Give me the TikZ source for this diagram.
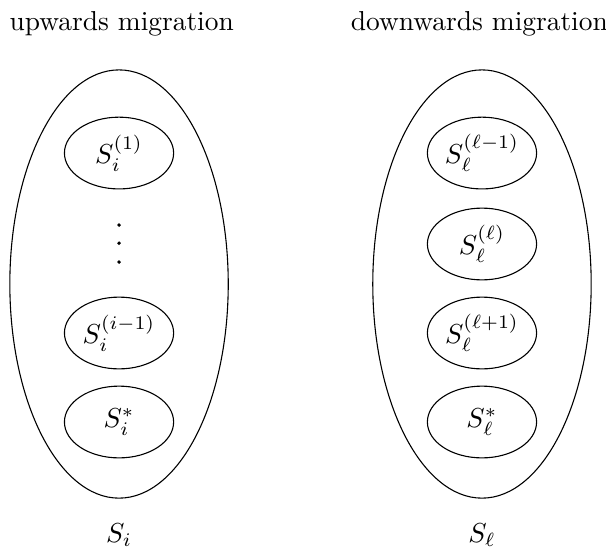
\documentclass[tikz,border=0pt]{standalone}
\usepackage{amsmath, amssymb}
\usepackage{tikz}
\usetikzlibrary{
    shapes.geometric,   % Required for ellipse nodes
    positioning         % Required for "below=of"
}

\begin{document}
\begin{tikzpicture}[
        thin,
        % Styles
        population/.style={ellipse, draw=black, inner sep=0pt, minimum width=2.8cm, minimum height=5.49cm},
        subpop/.style={ellipse, draw=black, inner sep=0pt, minimum width=1.4cm, minimum height=0.92cm},
        heading/.style={font=\normalsize},
        dot/.style={circle, fill=black, inner sep=0pt, minimum size=0.05cm}
    ]

    % --- Canvas (same proportions as the reference) ---
    \useasboundingbox (0,0) rectangle (7.769,-7.064);

    % --- 1. Headings ---
    \node[heading] (HeadUp) at (1.56,-0.30) {upwards migration};
    \node[heading] (HeadDown) at (6.145,-0.30) {downwards migration};

    % --- 2. Outer populations ---
    \node[population] (PopI) at (1.526,-3.641) {};
    \node[population] (PopL) at (6.179,-3.641) {};

    \node (LabelI) at (1.526,-6.86) {$S_i$};
    \node (LabelL) at (6.179,-6.86) {$S_\ell$};

    % --- 3. Subpopulations of S_i ---
    \node[subpop] (SubIa) at (1.526,-1.962) {$S_i^{(1)}$};
    \node[subpop] (SubIb) at (1.526,-4.269) {$S_i^{(i-1)}$};
    \node[subpop] (SubIc) at (1.526,-5.410) {$S_i^{*}$};

    % the dots in between
    \node[dot] (DotA) at (1.526,-2.885) {};
    \node[dot] (DotB) at (1.526,-3.118) {};
    \node[dot] (DotC) at (1.526,-3.359) {};

    % --- 4. Subpopulations of S_l ---
    \node[subpop] (SubLa) at (6.179,-1.962) {$S_\ell^{(\ell-1)}$};
    \node[subpop] (SubLb) at (6.179,-3.128) {$S_\ell^{(\ell)}$};
    \node[subpop] (SubLc) at (6.179,-4.269) {$S_\ell^{(\ell+1)}$};
    \node[subpop] (SubLd) at (6.179,-5.410) {$S_\ell^{*}$};

\end{tikzpicture}
\end{document}
